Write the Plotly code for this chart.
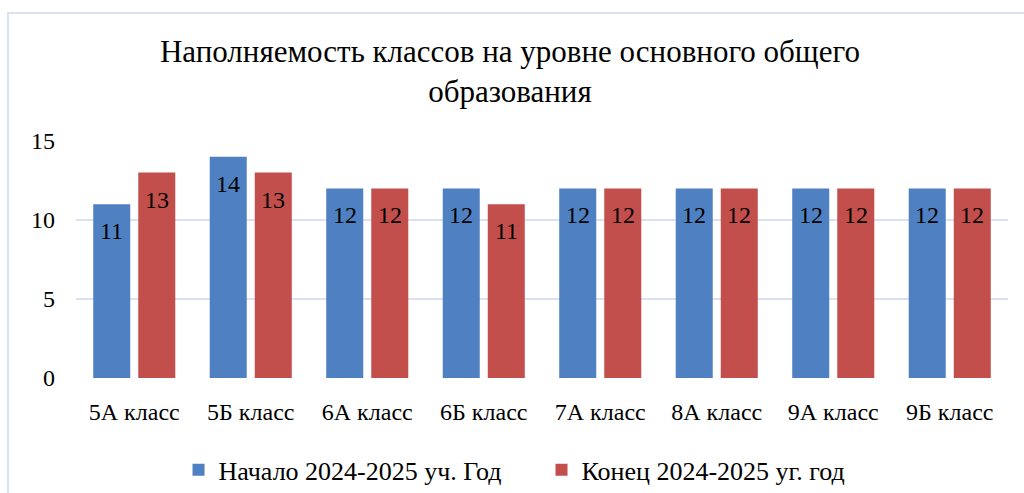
import plotly.graph_objects as go

classes = ["5А класс", "5Б класс", "6А класс", "6Б класс", "7А класс", "8А класс", "9А класс", "9Б класс"]
start_vals = [11, 14, 12, 12, 12, 12, 12, 12]
end_vals = [13, 13, 12, 11, 12, 12, 12, 12]
series_names = ["Начало 2024-2025 уч. Год", "Конец 2024-2025 уг. год"]
title_text = "Наполняемость классов на уровне основного общего<br>образования"

FONT = "Liberation Serif"
BLUE = "#4f80c2"
RED = "#c24f4c"
GRID = "#d9e1f2"

fig = go.Figure()
fig.add_trace(go.Bar(x=classes, y=start_vals, name=series_names[0], marker_color=BLUE,
                     marker_line_width=0))
fig.add_trace(go.Bar(x=classes, y=end_vals, name=series_names[1], marker_color=RED,
                     marker_line_width=0))

annotations = []
for vals, shift in ((start_vals, -22.5), (end_vals, 22.5)):
    for c, v in zip(classes, vals):
        annotations.append(dict(x=c, y=v, xref="x", yref="y", text=str(v), showarrow=False,
                                xshift=shift, yshift=-27, yanchor="middle",
                                font=dict(family=FONT, size=24, color="#000000")))

fig.update_layout(
    width=1024, height=493,
    margin=dict(l=76, r=16, t=141, b=115, autoexpand=False),
    paper_bgcolor="white", plot_bgcolor="white",
    barmode="group", bargap=0.227, bargroupgap=0.178,
    font=dict(family=FONT, size=24, color="#000000"),
    title=dict(text=title_text, x=0.498, xanchor="center", xref="container",
               y=1 - 62 / 493, yanchor="middle", yref="container",
               font=dict(family=FONT, size=31, color="#000000")),
    xaxis=dict(showgrid=False, showline=False, zeroline=False, ticks="",
               tickfont=dict(family=FONT, size=24, color="#000000"), ticklabelstandoff=17),
    yaxis=dict(range=[0, 15], dtick=5, showgrid=True, gridcolor=GRID, gridwidth=1.5,
               zeroline=False, showline=False, ticks="",
               tickfont=dict(family=FONT, size=24, color="#000000"), ticklabelstandoff=20),
    legend=dict(orientation="h", x=0.110, xanchor="left", y=-0.388, yanchor="middle",
                font=dict(family=FONT, size=26, color="#000000"),
                entrywidth=318, entrywidthmode="pixels"),
    showlegend=True,
    annotations=annotations,
    shapes=[dict(type="rect", xref="paper", yref="paper", x0=-0.073, x1=1.1, y0=-0.7, y1=1.540,
                 line=dict(color=GRID, width=2), fillcolor="rgba(0,0,0,0)", layer="below")],
)

fig.write_html("out.html", config={"displayModeBar": False},
               post_script="document.body.style.margin='0px';")
